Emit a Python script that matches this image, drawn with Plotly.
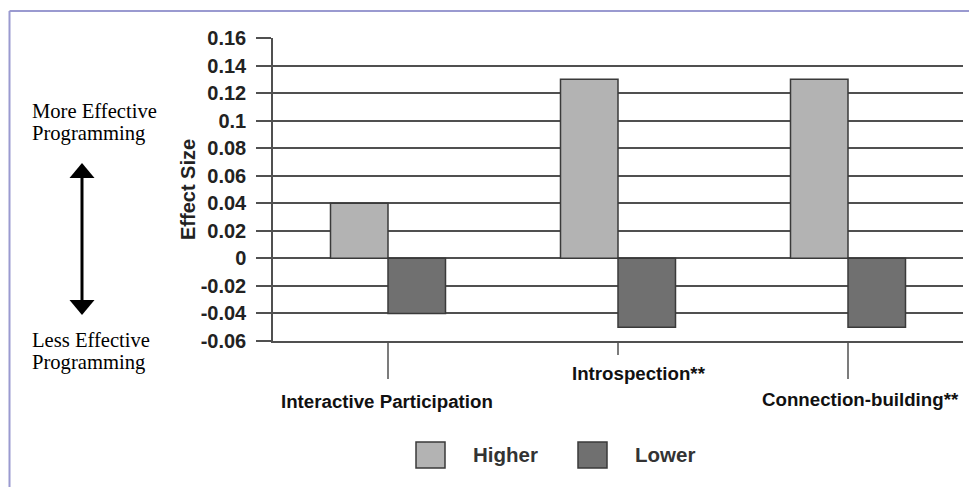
import plotly.graph_objects as go

# ---- data ----
categories = ["Interactive Participation", "Introspection**", "Connection-building**"]
series_names = ["Higher", "Lower"]
higher_values = [0.04, 0.13, 0.13]
lower_values = [-0.04, -0.05, -0.05]
tick_values = [0.16, 0.14, 0.12, 0.1, 0.08, 0.06, 0.04, 0.02, 0, -0.02, -0.04, -0.06]
tick_labels = ["0.16", "0.14", "0.12", "0.1", "0.08", "0.06", "0.04", "0.02", "0", "-0.02", "-0.04", "-0.06"]

OFF = 8  # page body margin
W, H = 977 - OFF, 487 - OFF
L, R, T = 273 - OFF, 14, 38 - OFF
B = H - (341 - OFF)
PW, PH = W - L - R, H - T - B

def px(x):
    return (x - OFF - L) / PW

def py(y):
    return (H - B - (y - OFF)) / PH

colors = {"Higher": "#b3b3b3", "Lower": "#707070"}
edge = "#3a3a3a"
grid = "#505050"

fig = go.Figure()
fig.add_trace(go.Bar(x=categories, y=higher_values, name="Higher",
                     marker=dict(color=colors["Higher"], line=dict(color=edge, width=1.5))))
fig.add_trace(go.Bar(x=categories, y=lower_values, name="Lower",
                     marker=dict(color=colors["Lower"], line=dict(color=edge, width=1.5))))

shapes = []
# frame (top and left)
shapes.append(dict(type="line", xref="paper", yref="paper", x0=px(9.5), x1=px(977), y0=py(11), y1=py(11),
                   line=dict(color="#9a9ad0", width=2)))
shapes.append(dict(type="line", xref="paper", yref="paper", x0=px(9.5), x1=px(9.5), y0=py(11), y1=py(487),
                   line=dict(color="#9a9ad0", width=2)))
# category ticks below axis
tick_ends = [379, 355, 379]
for cat, yend in zip(categories, tick_ends):
    shapes.append(dict(type="line", xref="x", yref="paper", x0=cat, x1=cat, y0=py(341), y1=py(yend),
                       line=dict(color=grid, width=1.5)))
# double arrow
shapes.append(dict(type="line", xref="paper", yref="paper", x0=px(82), x1=px(82), y0=py(176), y1=py(303),
                   line=dict(color="black", width=3)))
shapes.append(dict(type="path", xref="paper", yref="paper",
                   path=f"M {px(82)},{py(163)} L {px(69.5)},{py(178)} L {px(94.5)},{py(178)} Z",
                   fillcolor="black", line=dict(color="black", width=0)))
shapes.append(dict(type="path", xref="paper", yref="paper",
                   path=f"M {px(82)},{py(315)} L {px(69.5)},{py(300)} L {px(94.5)},{py(300)} Z",
                   fillcolor="black", line=dict(color="black", width=0)))
# custom legend boxes
legend_boxes = [(416, 445), (578, 607)]
for (x0, x1), name in zip(legend_boxes, series_names):
    shapes.append(dict(type="rect", xref="paper", yref="paper", x0=px(x0), x1=px(x1), y0=py(442), y1=py(468),
                       fillcolor=colors[name], line=dict(color=edge, width=1.5)))

annotations = []
cat_label_pos = [(387, 402), (639, 373), (860, 399)]
for cat, (x, y) in zip(categories, cat_label_pos):
    annotations.append(dict(text=cat, xref="paper", yref="paper", x=px(x), y=py(y), showarrow=False,
                            xanchor="center", yanchor="middle",
                            font=dict(family="Arial", size=18.7, color="#111", weight="bold")))
legend_text_pos = [471, 633]
for name, x in zip(series_names, legend_text_pos):
    annotations.append(dict(text=name, xref="paper", yref="paper", x=px(x), y=py(455), showarrow=False,
                            xanchor="left", yanchor="middle",
                            font=dict(family="Arial", size=20.5, color="#333", weight="bold")))
serif = dict(family="Liberation Serif", size=20.6, color="black")
for txt, y in [("More Effective", 111), ("Programming", 133), ("Less Effective", 340), ("Programming", 362)]:
    annotations.append(dict(text=txt, xref="paper", yref="paper", x=px(30), y=py(y), showarrow=False,
                            xanchor="left", yanchor="middle", font=serif))
annotations.append(dict(text="Effect Size", xref="paper", yref="paper", x=px(188), y=py(190), showarrow=False,
                        textangle=-90, xanchor="center", yanchor="middle",
                        font=dict(family="Arial", size=20, color="#222", weight="bold")))

fig.update_layout(
    width=W, height=H,
    margin=dict(l=L, r=R, t=T, b=B, pad=0),
    paper_bgcolor="white", plot_bgcolor="white",
    barmode="group", bargap=0.5, bargroupgap=0,
    showlegend=False,
    shapes=shapes, annotations=annotations,
)
fig.update_xaxes(type="category", showticklabels=False, ticks="", showgrid=False,
                 showline=True, linecolor=grid, linewidth=1.5, range=[-0.5, 2.5])
fig.update_yaxes(range=[-0.06, 0.16], tickmode="array", tickvals=tick_values, ticktext=tick_labels,
                 showgrid=True, gridcolor=grid, gridwidth=1.5, zeroline=False,
                 showline=True, linecolor=grid, linewidth=1.5,
                 ticks="outside", ticklen=15, tickwidth=1.5, tickcolor=grid,
                 tickfont=dict(family="Arial", size=20, color="#222", weight="bold"),
                 ticklabelstandoff=6)

fig.write_html("out.html")
